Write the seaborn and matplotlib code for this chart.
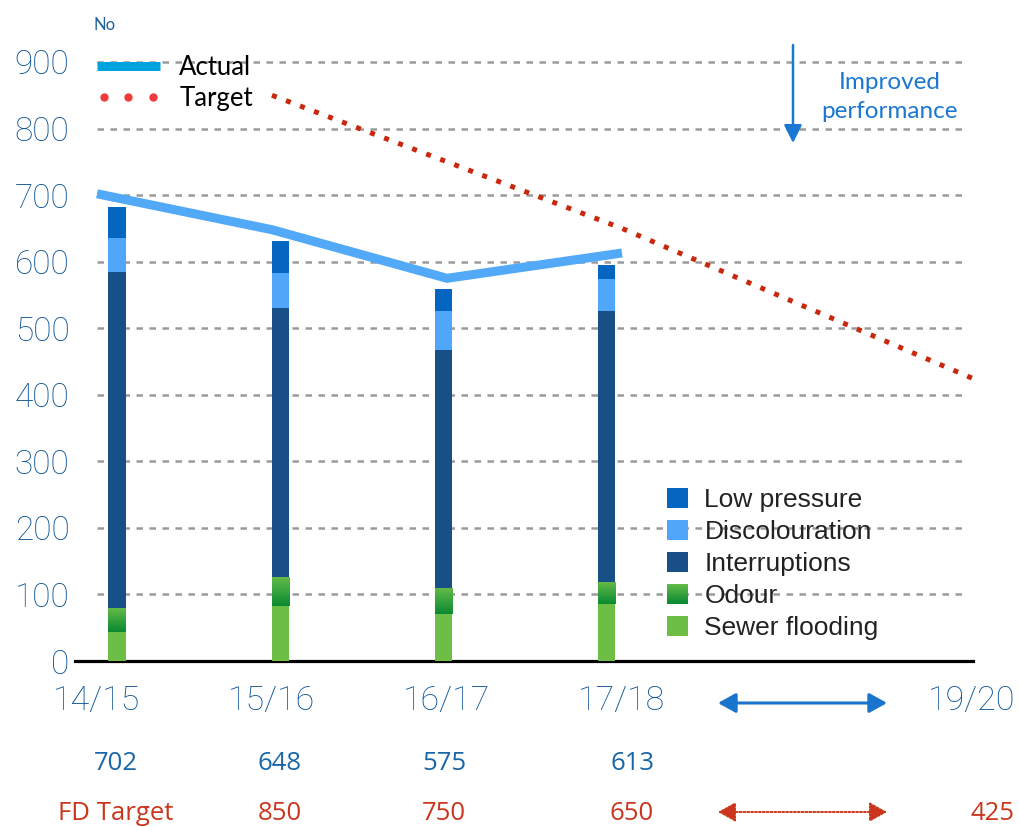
import numpy as np
import matplotlib
matplotlib.use("Agg")
import matplotlib.pyplot as plt
from matplotlib.colors import LinearSegmentedColormap
from matplotlib.lines import Line2D
from matplotlib.patches import Patch, Rectangle, FancyArrowPatch
from matplotlib.legend_handler import HandlerBase, HandlerLine2D
import seaborn as sns

# Reporting years on the headline axis
periods = ["14/15", "15/16", "16/17", "17/18", "18/19", "19/20"]
labelled_periods = ["14/15", "15/16", "16/17", "17/18", "19/20"]

# Contacts by category, bottom of the stack first
bar_years = ["14/15", "15/16", "16/17", "17/18"]
sewer_flooding = [43, 83, 71, 86]
odour = [36, 43, 39, 33]
interruptions = [505, 405, 357, 407]
discolouration = [52, 52, 59, 48]
low_pressure = [46, 48, 33, 21]
categories = ["Sewer flooding", "Odour", "Interruptions", "Discolouration", "Low pressure"]

# Headline measure and final determination targets
actual_years = ["14/15", "15/16", "16/17", "17/18"]
actual = [702, 648, 575, 613]
target_years = ["15/16", "16/17", "17/18", "19/20"]
target = [850, 750, 650, 425]

y_ticks = list(range(0, 1000, 100))

# Colours
cat_colors = ["#6dbe45", "#2f9e3a", "#174f86", "#50a6f8", "#0566c2"]
odour_grad = ["#0a8a32", "#62ba47"]
actual_color = "#52a9f7"
actual_key_color = "#00a3dd"
target_color = "#c8290e"
target_key_color = "#ef3a3a"
axis_blue = "#1a66a6"
tick_blue = "#0a5294"
note_blue = "#1a78d2"
target_red = "#c9361c"

sns.set_style("white")

W, H = 1020, 827
fig = plt.figure(figsize=(W / 100, H / 100), dpi=100)


def fx(px):
    return px / W


def fy(py):
    return 1 - py / H


ax = fig.add_axes([fx(75), fy(661), (973 - 75) / W, (661 - 38.7) / H])
ax_bar = ax.twiny()

# Dashed horizontal guides
for v in y_ticks[1:]:
    ax.axhline(v, xmin=(97 - 75) / 898, xmax=(968 - 75) / 898, color="#9b9b9b",
               lw=1.8, dashes=(2.6, 2.6), zorder=0)

# Headline lines
x_actual = [periods.index(p) for p in actual_years]
x_target = [periods.index(p) for p in target_years]
sns.lineplot(x=x_actual, y=actual, color=actual_color, linewidth=6.5, ax=ax,
             estimator=None, sort=False)
a_line = ax.lines[-1]
a_line.set_solid_capstyle("butt")
a_line.set_solid_joinstyle("miter")
sns.lineplot(x=x_target, y=target, color=target_color, linewidth=3.6, ax=ax,
             estimator=None, sort=False)
t_line = ax.lines[-1]
t_line.set_linestyle((0, (1, 2)))
t_line.set_dash_capstyle("butt")

# Stacked bars, drawn as overlapping cumulative totals
stack = np.cumsum([sewer_flooding, odour, interruptions, discolouration, low_pressure], axis=0)
grad_cmap = LinearSegmentedColormap.from_list("odour", odour_grad)
for idx in range(len(categories) - 1, -1, -1):
    sns.barplot(x=bar_years, y=stack[idx], color=cat_colors[idx], width=0.105,
                saturation=1, linewidth=0, errorbar=None, ax=ax_bar)
    if categories[idx] == "Odour":
        for i, p in enumerate(ax_bar.containers[-1]):
            x0, w = p.get_x(), p.get_width()
            ax_bar.imshow(np.linspace(0, 1, 64).reshape(-1, 1), cmap=grad_cmap,
                          origin="lower", aspect="auto", interpolation="bilinear",
                          extent=[x0, x0 + w, stack[0][i], stack[1][i]], zorder=1.2)

ax.set_xlim(-0.1257, 5.006)
ax_bar.set_xlim(-0.257, 5.242)
ax.set_ylim(0, 935)

# Axis styling
ax.set_yticks(y_ticks, [str(v) for v in y_ticks], fontfamily="Roboto",
              fontweight="light", fontsize=24, color=tick_blue)
ax.set_xticks([periods.index(p) for p in labelled_periods], labelled_periods,
              fontfamily="Roboto", fontweight="light", fontsize=24.5, color=tick_blue)
ax.tick_params(axis="y", length=0, pad=4)
ax.tick_params(axis="x", length=0, pad=17)
ax.set_xlabel("")
ax.set_ylabel("")
ax_bar.set_xticks([])
ax_bar.set_xlabel("")
ax_bar.set_ylabel("")
for s in ["top", "right", "left"]:
    ax.spines[s].set_visible(False)
for s in ax_bar.spines.values():
    s.set_visible(False)
ax.spines["bottom"].set_color("black")
ax.spines["bottom"].set_linewidth(2.3)


class GradientSquare(HandlerBase):
    def __init__(self, cmap, steps=16):
        super().__init__()
        self.cmap = cmap
        self.steps = steps

    def create_artists(self, legend, orig_handle, xdescent, ydescent, width,
                       height, fontsize, trans):
        arts = []
        h = height / self.steps
        for i in range(self.steps):
            arts.append(Rectangle((-xdescent, -ydescent + i * h), width, h * 1.05,
                                  facecolor=self.cmap(i / (self.steps - 1)),
                                  edgecolor="none", transform=trans))
        return arts


# Category key
cat_handles = [Patch(facecolor=c, edgecolor="none") for c in cat_colors]
odour_handle = cat_handles[categories.index("Odour")]
ax_bar.legend(cat_handles[::-1], categories[::-1], loc="upper left",
              bbox_to_anchor=(fx(667), fy(488)), bbox_transform=fig.transFigure,
              frameon=False, prop=dict(family="Liberation Sans", size=19),
              labelcolor="#222222", handlelength=0.8, handleheight=0.8,
              handletextpad=0.62, labelspacing=0.29, borderpad=0, borderaxespad=0,
              handler_map={odour_handle: GradientSquare(grad_cmap)})

# Actual / Target key
actual_handle = Line2D([], [], color=actual_key_color, lw=6.5, solid_capstyle="butt")
target_handle = Line2D([], [], color=target_key_color, ls="none", marker="o",
                       markersize=6, markeredgewidth=0)
ax.legend([actual_handle, target_handle], ["Actual", "Target"], loc="upper left",
          bbox_to_anchor=(fx(97), fy(55)), bbox_transform=fig.transFigure,
          frameon=False, prop=dict(family="Lato", size=18.5), labelcolor="black",
          handlelength=2.45, handletextpad=0.75, labelspacing=0.25, borderpad=0,
          borderaxespad=0, numpoints=1,
          handler_map={target_handle: HandlerLine2D(numpoints=3, marker_pad=0.29)})

# Annotations
fig.text(fx(105), fy(25), "No", ha="center", va="center", fontsize=12,
         color="#1f5f9f", family="Lato")
fig.text(fx(890), fy(97), "Improved\nperformance", ha="center", va="center",
         fontsize=17.5, color=note_blue, family="Lato", linespacing=1.45)
fig.add_artist(FancyArrowPatch((fx(793), fy(45)), (fx(793), fy(143)),
                               transform=fig.transFigure,
                               arrowstyle="-|>,head_length=0.54,head_width=0.27",
                               mutation_scale=20, color=note_blue, lw=1.8,
                               shrinkA=0, shrinkB=0))
fig.add_artist(FancyArrowPatch((fx(718), fy(703)), (fx(887), fy(703)),
                               transform=fig.transFigure,
                               arrowstyle="<|-|>,head_length=0.54,head_width=0.3",
                               mutation_scale=20, color="#1a73cc", lw=2.2,
                               shrinkA=0, shrinkB=0))
fig.add_artist(FancyArrowPatch((fx(718), fy(812)), (fx(887), fy(812)),
                               transform=fig.transFigure,
                               arrowstyle="<|-|>,head_length=0.54,head_width=0.3",
                               mutation_scale=20, color=target_red, lw=1.4,
                               linestyle=(0, (1, 1)), shrinkA=0, shrinkB=0))

# Value table under the axis
actual_cols = [116, 280, 444, 632]
target_cols = [280, 444, 632, 993]
table_font = dict(fontsize=18.5, family="Open Sans", ha="center", va="center")
for px, v in zip(actual_cols, actual):
    fig.text(fx(px), fy(763), str(v), color=axis_blue, **table_font)
fig.text(fx(116), fy(813), "FD Target", color=target_red, **table_font)
for px, v in zip(target_cols, target):
    fig.text(fx(px), fy(813), str(v), color=target_red, **table_font)

fig.savefig("out.png", dpi=100)
